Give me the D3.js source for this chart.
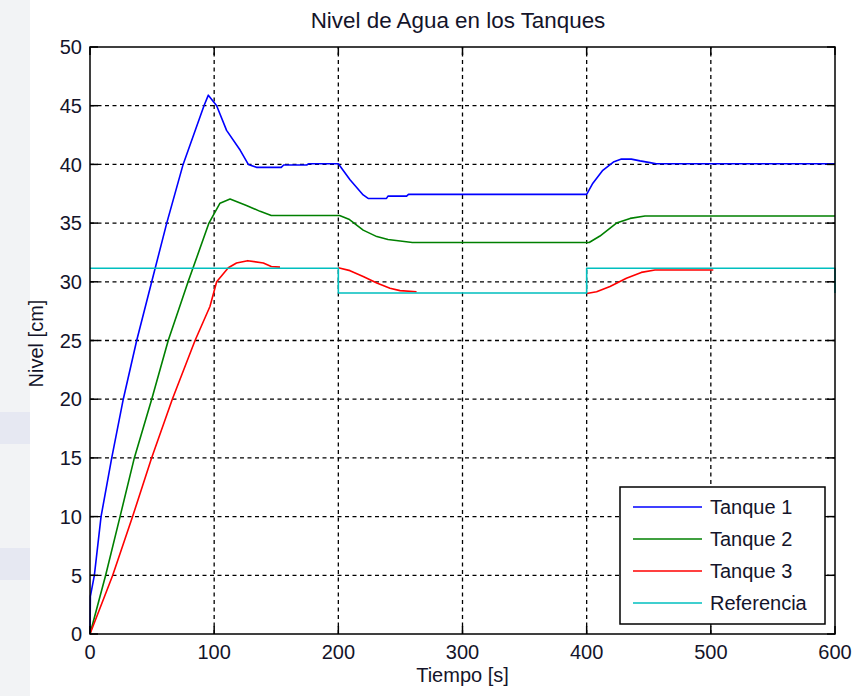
<!DOCTYPE html>
<html>
<head>
<meta charset="utf-8">
<script src="https://cdn.jsdelivr.net/npm/d3@7"></script>
<style>
  html, body { margin: 0; padding: 0; background: #fff; }
  svg { display: block; font-family: "Liberation Sans", Arial, sans-serif; }
</style>
</head>
<body>
<svg id="chart" width="867" height="696"></svg>
<script>
// ---- data ----
const xTicks = [0, 100, 200, 300, 400, 500, 600];
const yTicks = [0, 5, 10, 15, 20, 25, 30, 35, 40, 45, 50];
const seriesNames = ["Tanque 1", "Tanque 2", "Tanque 3", "Referencia"];

const tanque1T = [0, 0.3, 3.5, 8.9, 17.5, 26.8, 37.6, 49.7, 61.8, 75, 91.8, 95.3, 102, 110, 121, 127.5, 134, 154, 156, 174.5, 176, 200, 209.4, 220, 224, 238.8, 240, 255, 256.5, 400, 405, 413, 421.5, 428, 436, 443, 451, 456, 600];
const tanque1V = [0, 3.2, 5, 10, 15, 20, 25, 30, 35, 40, 45, 45.9, 45, 42.9, 41.2, 40, 39.75, 39.75, 39.95, 39.95, 40.05, 40.05, 38.7, 37.4, 37.1, 37.1, 37.3, 37.3, 37.45, 37.45, 38.4, 39.5, 40.2, 40.45, 40.45, 40.3, 40.15, 40.05, 40.05];

const tanque2T = [0, 12.6, 24.2, 35.7, 49.7, 63, 79, 95.8, 104.7, 112.8, 126, 137, 146, 200, 201, 209, 220, 231, 240, 259.6, 402, 410.7, 424, 435, 447, 600];
const tanque2V = [0, 5, 10, 15, 20, 25, 30, 35, 36.7, 37.05, 36.5, 36, 35.65, 35.65, 35.65, 35.3, 34.4, 33.85, 33.6, 33.35, 33.35, 33.9, 35, 35.4, 35.6, 35.6];

// null marks a gap in the recorded curve
const tanque3T = [0, 18.3, 34.3, 49.6, 66.3, 84.6, 96.6, 102, 111.4, 118, 127, 139.6, 146, 153, 176, 200, 209.4, 220, 231, 241.6, 249.7, 263, 330, 400, 408, 418.8, 432, 444, 455, 502];
const tanque3V = [0, 5, 10, 15, 20, 25, 27.9, 30, 31.2, 31.6, 31.8, 31.6, 31.3, 31.25, null, 31.2, 30.95, 30.45, 29.9, 29.45, 29.25, 29.15, null, 29.0, 29.15, 29.6, 30.3, 30.8, 31.0, 31.0];

const referenciaT = [0, 200, 200, 400, 400, 600, 600];
const referenciaV = [31.15, 31.15, 29.05, 29.05, 31.15, 31.15, 29.05];

const colors = ["#0000ff", "#008000", "#ff0000", "#00bfbf"];

// ---- layout ----
const svg = d3.select("#chart");
const L = 90, R = 835, T = 47, B = 634;
const x = d3.scaleLinear().domain([0, 600]).range([L, R]);
const y = d3.scaleLinear().domain([0, 50]).range([B, T]);

// faint background strip on the left (screenshot artefact)
svg.append("rect").attr("x", 0).attr("y", 0).attr("width", 30).attr("height", 696).attr("fill", "#f2f3f5");
svg.append("rect").attr("x", 0).attr("y", 412).attr("width", 30).attr("height", 32).attr("fill", "#e6e8f2");
svg.append("rect").attr("x", 0).attr("y", 548).attr("width", 30).attr("height", 32).attr("fill", "#e6e8f2");

// grid
const grid = svg.append("g").attr("stroke", "#000").attr("stroke-width", 1.3).attr("stroke-dasharray", "4,3.5");
grid.selectAll(".gx").data(xTicks.filter(d => d > 0 && d < 600)).join("line")
  .attr("x1", d => x(d)).attr("x2", d => x(d)).attr("y1", B).attr("y2", T);
grid.selectAll(".gy").data(yTicks.filter(d => d > 0 && d < 50)).join("line")
  .attr("x1", L).attr("x2", R).attr("y1", d => y(d)).attr("y2", d => y(d));

// lines
const seriesData = [
  tanque1T.map((t, i) => [t, tanque1V[i]]),
  tanque2T.map((t, i) => [t, tanque2V[i]]),
  tanque3T.map((t, i) => [t, tanque3V[i]]),
  referenciaT.map((t, i) => [t, referenciaV[i]])
];
const line = d3.line().defined(d => d[1] !== null).x(d => x(d[0])).y(d => y(d[1]));
svg.append("g").selectAll("path").data(seriesData).join("path")
  .attr("d", line).attr("fill", "none")
  .attr("stroke", (d, i) => colors[i]).attr("stroke-width", 1.6)
  .attr("stroke-linejoin", "round");

// axes (box with inward ticks)
const tickLen = 8;
const ax = svg.append("g").attr("stroke", "#000").attr("stroke-width", 1.5);
ax.append("rect").attr("x", L).attr("y", T).attr("width", R - L).attr("height", B - T).attr("fill", "none");
ax.selectAll(".tb").data(xTicks).join("line")
  .attr("x1", d => x(d)).attr("x2", d => x(d)).attr("y1", B).attr("y2", B - tickLen);
ax.selectAll(".tt").data(xTicks).join("line")
  .attr("x1", d => x(d)).attr("x2", d => x(d)).attr("y1", T).attr("y2", T + tickLen);
ax.selectAll(".tl").data(yTicks).join("line")
  .attr("x1", L).attr("x2", L + tickLen).attr("y1", d => y(d)).attr("y2", d => y(d));
ax.selectAll(".tr").data(yTicks).join("line")
  .attr("x1", R).attr("x2", R - tickLen).attr("y1", d => y(d)).attr("y2", d => y(d));

// tick labels
const txt = svg.append("g").attr("fill", "#14142a").attr("font-size", 20);
txt.selectAll(".xl").data(xTicks).join("text")
  .attr("x", d => x(d)).attr("y", 659).attr("text-anchor", "middle").text(d => d);
txt.selectAll(".yl").data(yTicks).join("text")
  .attr("x", 82).attr("y", d => y(d)).attr("dy", "0.36em").attr("text-anchor", "end").text(d => d);

// title and axis labels
svg.append("text").attr("x", 458).attr("y", 28).attr("text-anchor", "middle")
  .attr("font-size", 22.4).attr("fill", "#14142a").text("Nivel de Agua en los Tanques");
svg.append("text").attr("x", (L + R) / 2).attr("y", 682).attr("text-anchor", "middle")
  .attr("font-size", 20).attr("fill", "#14142a").text("Tiempo [s]");
svg.append("text").attr("transform", `translate(43,${(T + B) / 2 + 3}) rotate(-90)`)
  .attr("text-anchor", "middle").attr("font-size", 20).attr("fill", "#14142a").text("Nivel [cm]");

// legend
const lg = svg.append("g");
lg.append("rect").attr("x", 620).attr("y", 487).attr("width", 205).attr("height", 137)
  .attr("fill", "#fff").attr("stroke", "#000").attr("stroke-width", 1.5);
const rows = lg.selectAll(".row").data(seriesNames).join("g")
  .attr("transform", (d, i) => `translate(0,${507 + i * 32})`);
rows.append("line").attr("x1", 633).attr("x2", 702).attr("y1", 0).attr("y2", 0)
  .attr("stroke", (d, i) => colors[i]).attr("stroke-width", 1.6);
rows.append("text").attr("x", 710).attr("y", 0).attr("dy", "0.36em")
  .attr("font-size", 20).attr("fill", "#14142a").text(d => d);
</script>
</body>
</html>
